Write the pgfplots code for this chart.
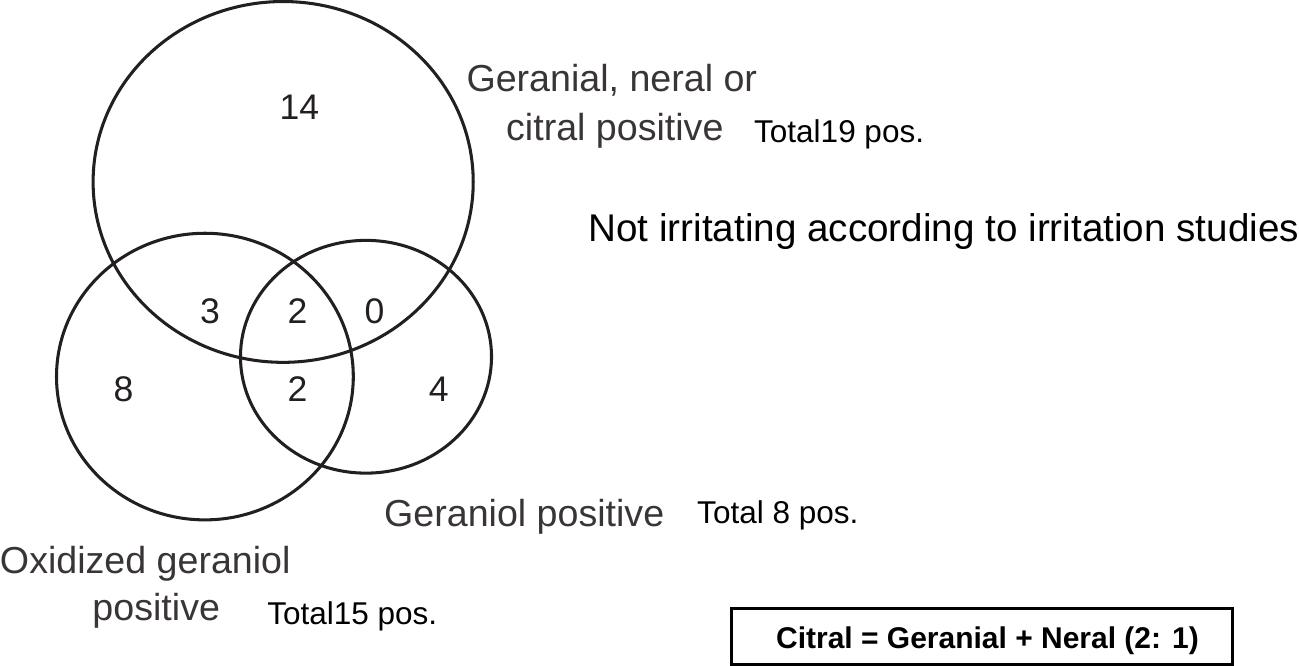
\documentclass[border=0pt]{standalone}
\usepackage{pgfplots}
\pgfplotsset{compat=1.18}
\usepackage{fontspec}
\setmainfont{Liberation Sans}
\definecolor{ink}{HTML}{231F20}
\begin{document}
\begin{tikzpicture}
\begin{axis}[hide axis, scale only axis, width=649.5pt, height=331.5pt,
  xmin=0, xmax=1299, ymin=0, ymax=663, clip=false]
% circles
\draw[ink, line width=1.5pt] (axis cs:295,476.5) ellipse [x radius=187, y radius=177.5];
\draw[ink, line width=1.5pt] (axis cs:218,285) ellipse [x radius=146, y radius=141];
\draw[ink, line width=1.5pt] (axis cs:376.5,304.5) ellipse [x radius=123.5, y radius=114.5];
% counts
\begin{scope}[every node/.style={inner sep=0pt, anchor=base, text=ink, font=\fontsize{17.5}{20}\selectfont}]
\node at (axis cs:311,538) {14};
\node at (axis cs:223,337) {3};
\node at (axis cs:309,337) {2};
\node at (axis cs:385,337) {0};
\node at (axis cs:138,260.5) {8};
\node at (axis cs:309,260.5) {2};
\node at (axis cs:448,260.5) {4};
\end{scope}
% labels
\begin{scope}[every node/.style={inner sep=0pt, anchor=base west, text=ink!90, font=\fontsize{18.5}{22}\selectfont}]
\node at (axis cs:475,565) {Geranial, neral or};
\node at (axis cs:514,517) {citral positive};
\node at (axis cs:394,137.5) {Geraniol positive};
\node at (axis cs:16,91) {Oxidized geraniol};
\node at (axis cs:107,45) {positive};
\end{scope}
\begin{scope}[every node/.style={inner sep=0pt, anchor=base west, text=black, font=\fontsize{15.5}{18}\selectfont}]
\node at (axis cs:758,515) {Total19 pos.};
\node at (axis cs:702,140) {Total 8 pos.};
\node at (axis cs:279,41.5) {Total15 pos.};
\end{scope}
\node[inner sep=0pt, anchor=base west, font=\fontsize{19}{22}\selectfont] at (axis cs:595,418) {Not irritating according to irritation studies};
\draw[black, line width=1.5pt] (axis cs:736,2) rectangle (axis cs:1229,57);
\node[inner sep=0pt, anchor=base, font=\bfseries\fontsize{14.75}{17}\selectfont] at (axis cs:988,17) {Citral = Geranial + Neral (2: 1)};
\end{axis}
\end{tikzpicture}
\end{document}
